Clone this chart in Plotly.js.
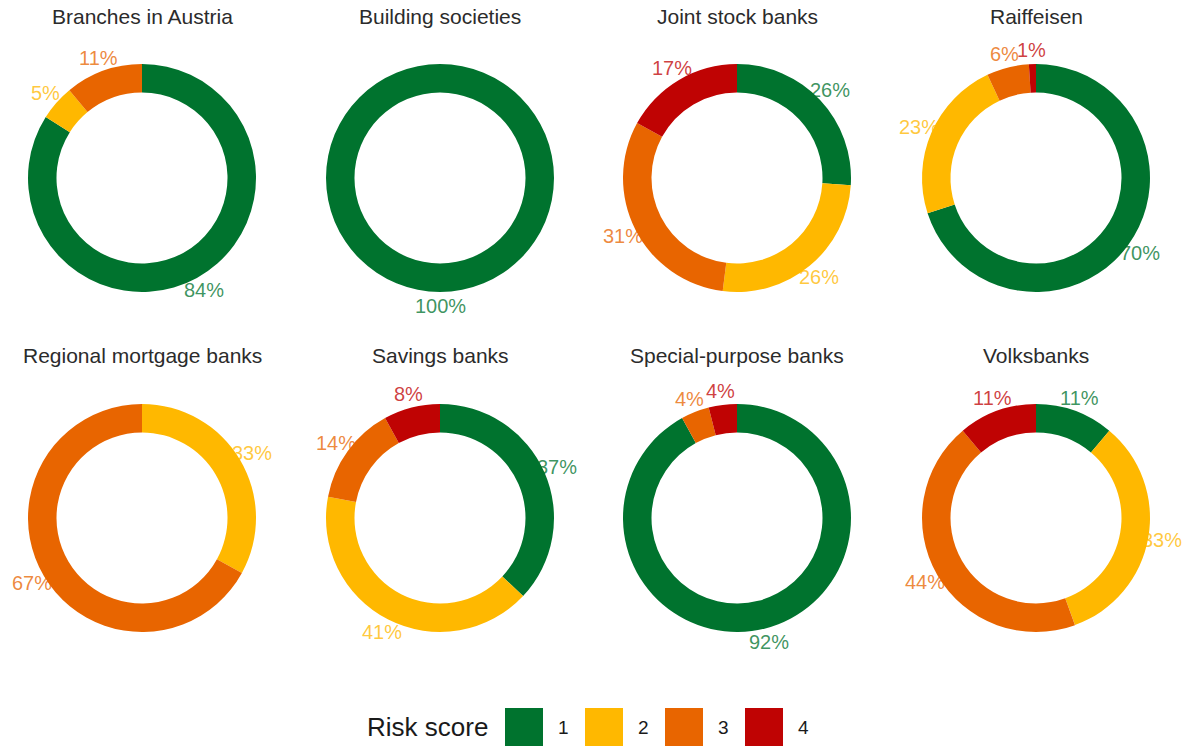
<!DOCTYPE html>
<html><head><meta charset="utf-8">
<script src="https://cdn.plot.ly/plotly-3.0.1.min.js"></script>
<style>html,body{margin:0;padding:0;background:#fff}</style></head>
<body><div id="chart" style="width:1187px;height:749px"></div>
<script>
// ---- data ----
const groups = ["Branches in Austria","Building societies","Joint stock banks","Raiffeisen",
                "Regional mortgage banks","Savings banks","Special-purpose banks","Volksbanks"];
const riskScores = ["1","2","3","4"];
const score1 = [84,100,26,70,0,37,92,11];
const score2 = [5,0,26,23,33,41,0,33];
const score3 = [11,0,31,6,67,14,4,44];
const score4 = [0,0,17,1,0,8,4,11];
const legendTitle = "Risk score";

// ---- style / layout constants ----
const colors = ["#00732E","#FFB800","#E86500","#BF0303"];
const labelColors = ["rgba(0,115,46,0.77)","rgba(255,184,0,0.77)","rgba(232,101,0,0.77)","rgba(191,3,3,0.77)"];
const W = 1187, H = 749;
const colX = [142, 440, 737, 1036];
const rowY = [178, 518];
const titleY = [16, 356];
const R = 114, LABEL_R = 128;
const FONT = "Liberation Sans, Arial, sans-serif";

const traces = [], annotations = [], shapes = [];
const px = x => x / W, py = y => 1 - y / H;

groups.forEach((g, i) => {
  const cx = colX[i % 4], cy = rowY[Math.floor(i / 4)];
  const vals = [score1[i], score2[i], score3[i], score4[i]];
  traces.push({
    type: "pie", labels: riskScores, values: vals, sort: false,
    direction: "clockwise", rotation: 0, hole: 0.75,
    marker: { colors: colors, line: { width: 0 } },
    textinfo: "none", hoverinfo: "label+percent", showlegend: false,
    domain: { x: [px(cx - R), px(cx + R)], y: [py(cy + R), py(cy - R)] }
  });
  annotations.push({
    text: g, x: px(cx), y: py(titleY[Math.floor(i / 4)]), xref: "paper", yref: "paper",
    xanchor: "center", yanchor: "middle", showarrow: false,
    font: { family: FONT, size: 21, color: "#2b2b2b" }
  });
  const total = vals.reduce((a, b) => a + b, 0);
  let cum = 0;
  vals.forEach((v, k) => {
    if (v > 0) {
      const mid = (cum + v / 2) / total * 2 * Math.PI;
      annotations.push({
        text: Math.round(v / total * 100) + "%",
        x: px(cx + LABEL_R * Math.sin(mid)), y: py(cy - LABEL_R * Math.cos(mid)),
        xref: "paper", yref: "paper", xanchor: "center", yanchor: "middle", showarrow: false,
        font: { family: FONT, size: 20, color: labelColors[k] }
      });
    }
    cum += v;
  });
});

// ---- legend ----
const LEG_Y = 727, LEG_X0 = 505, LEG_STEP = 80, SQ = 38;
annotations.push({
  text: legendTitle, x: px(490), y: py(LEG_Y), xref: "paper", yref: "paper",
  xanchor: "right", yanchor: "middle", showarrow: false,
  font: { family: FONT, size: 26, color: "#1a1a1a" }
});
riskScores.forEach((s, k) => {
  const x0 = LEG_X0 + k * LEG_STEP;
  shapes.push({
    type: "rect", xref: "paper", yref: "paper",
    x0: px(x0), x1: px(x0 + SQ), y0: py(LEG_Y + SQ / 2), y1: py(LEG_Y - SQ / 2),
    fillcolor: colors[k], line: { width: 0 }
  });
  annotations.push({
    text: s, x: px(x0 + SQ + 20), y: py(LEG_Y), xref: "paper", yref: "paper",
    xanchor: "center", yanchor: "middle", showarrow: false,
    font: { family: FONT, size: 19, color: "#1a1a1a" }
  });
});

Plotly.newPlot("chart", traces, {
  width: W, height: H, margin: { l: 0, r: 0, t: 0, b: 0 },
  paper_bgcolor: "#ffffff", plot_bgcolor: "#ffffff",
  showlegend: false, annotations: annotations, shapes: shapes
}, { displayModeBar: false, staticPlot: true });
</script></body></html>
